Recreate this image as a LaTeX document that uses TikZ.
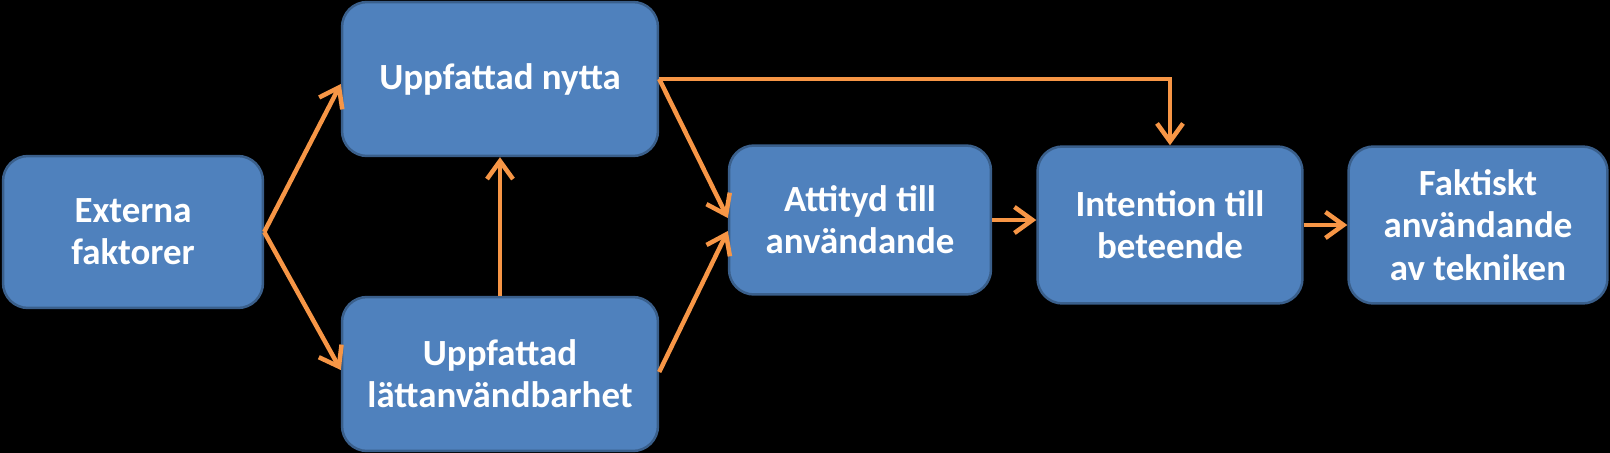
\documentclass[tikz,border=0pt]{standalone}
\usepackage{fontspec}
\setmainfont{Carlito}
\usetikzlibrary{arrows.meta}
\definecolor{boxfill}{HTML}{4F81BD}
\definecolor{boxline}{HTML}{3A5F8B}
\definecolor{arrowc}{HTML}{F79646}
\begin{document}
\begin{tikzpicture}[x=0.02cm, y=-0.02cm,
  boxstyle/.style={fill=boxfill, draw=boxline, line width=0.05cm, rounded corners=0.5cm, align=center, text=white, font=\fontsize{21}{24}\selectfont\bfseries, inner sep=0pt},
  arrowstyle/.style={arrowc, line width=0.09cm, -{Straight Barb[length=0.36cm,width=0.52cm]}}]
  \fill [black] (0,0) rectangle (1610,453);
  \useasboundingbox (0,0) rectangle (1610,453);

  \node [boxstyle, minimum width=5.2cm, minimum height=3.04cm] (Externa) at (133,232) {Externa\\faktorer};
  \node [boxstyle, minimum width=6.32cm, minimum height=3.08cm] (Nytta) at (500,79) {Uppfattad nytta};
  \node [boxstyle, minimum width=6.32cm, minimum height=3.08cm] (Latt) at (500,374) {Uppfattad\\lättanvändbarhet};
  \node [boxstyle, minimum width=5.24cm, minimum height=2.98cm] (Attityd) at (860,220) {Attityd till\\användande};
  \node [boxstyle, minimum width=5.3cm, minimum height=3.14cm] (Intention) at (1170,225) {Intention till\\beteende};
  \node [boxstyle, minimum width=5.18cm, minimum height=3.14cm] (Faktiskt) at (1478,225) {Faktiskt\\användande\\av tekniken};

  \draw [arrowstyle] (Externa.east) -- ([yshift=-0.1cm]Nytta.west);
  \draw [arrowstyle] (Externa.east) -- ([yshift=0.08cm]Latt.west);
  \draw [arrowstyle] (Latt.north) -- (Nytta.south);
  \draw [arrowstyle] (Nytta.east) -- ([yshift=0.04cm]Attityd.west);
  \draw [arrowstyle] ([yshift=0.04cm]Latt.east) -- ([yshift=-0.22cm]Attityd.west);
  \draw [arrowstyle] (Nytta.east) -| (Intention.north);
  \draw [arrowstyle] (Attityd.east) -- (Attityd.east -| Intention.west);
  \draw [arrowstyle] (Intention.east) -- (Faktiskt.west);
\end{tikzpicture}
\end{document}
